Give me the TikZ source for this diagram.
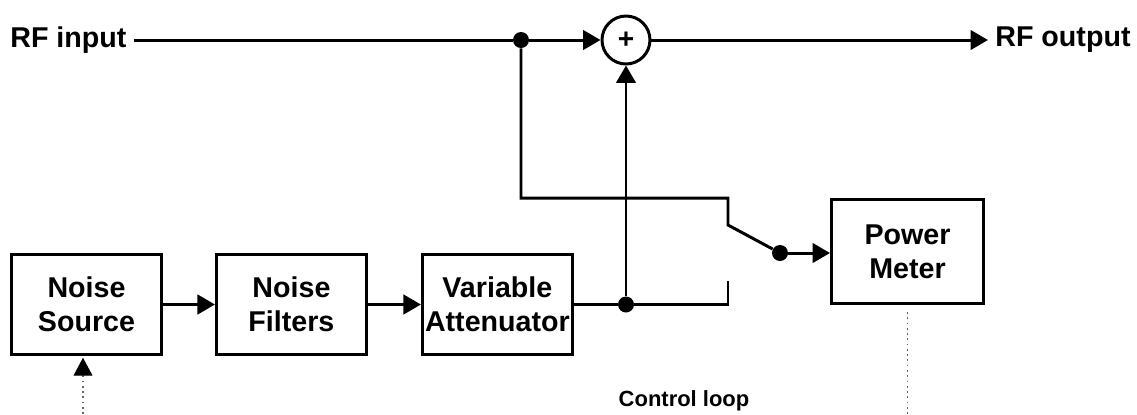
\documentclass[tikz,border=0pt]{standalone}
\usepackage{fontspec}
\setmainfont{Liberation Sans}
\usetikzlibrary{arrows.meta,positioning}

\begin{document}
\begin{tikzpicture}[x=0.02cm,y=-0.02cm,
  blk/.style={draw,line width=1.7pt,align=center,
    font=\bfseries\fontsize{16.3}{19.4}\selectfont,
    minimum width=3cm,minimum height=2cm,inner sep=1pt},
  sig/.style={font=\bfseries\fontsize{16.3}{19.4}\selectfont,inner sep=4pt},
  f/.style={-{Triangle[length=3.5mm,width=3.9mm]},line width=1.7pt},
  w/.style={line width=1.7pt},
  dot/.style={circle,fill,inner sep=0pt,minimum size=3.2mm},
  ctl/.style={black!60,line width=.6pt,dash pattern=on 1pt off 2pt}]
\useasboundingbox (0,0) rectangle (1137,414);
\node[blk] (src) at (86.5,304.5) {Noise\\Source};
\node[blk,right=1.04cm of src] (filt) {Noise\\Filters};
\node[blk,right=1.06cm of filt] (att) {Variable\\Attenuator};
\node[blk,minimum width=3.04cm,minimum height=2.08cm] (pm) at (907.5,251.5) {Power\\Meter};
\node[circle,draw,line width=1.7pt,minimum size=.96cm,inner sep=0pt,
  font=\bfseries\fontsize{16}{16}\selectfont] (sum) at (626,40) {+};
\node[sig,anchor=west] (in) at (3,40) {RF input};
\node[sig,anchor=west] (out) at (988,40) {RF output};
\node[dot] (tap) at (521,40) {};
\node[dot] (node) at (att.east -| sum) {};
\node[dot] (arm) at (780,253) {};
\coordinate (bend) at (728,198);
\coordinate (up) at (728,225);
\coordinate (dn) at (728,281);
\coordinate (srcend) at (83,414);
\coordinate (pmend) at (907.5,414);
\node[font=\bfseries\fontsize{12.5}{14}\selectfont,anchor=base] (loop) at (684,406) {Control loop};
\draw[w] (in) -- (tap);
\draw[f] (tap) -- (sum);
\draw[f] (sum) -- (out);
\draw[f] (src) -- (filt);
\draw[f] (filt) -- (att);
\draw[w] (att) -- (node) -| (dn);
\draw[f] (node) -- (sum);
\draw[w] (tap) |- (bend) -- (up) -- (arm);
\draw[f] (arm) -- (arm -| pm.west);
\draw[ctl] ([yshift=-4pt]pm.south) -- (pmend);
\draw[ctl,-{Triangle[length=3.6mm,width=3.8mm,black]}] (srcend) -- ([yshift=-1pt]srcend |- src.south);
\end{tikzpicture}
\end{document}
